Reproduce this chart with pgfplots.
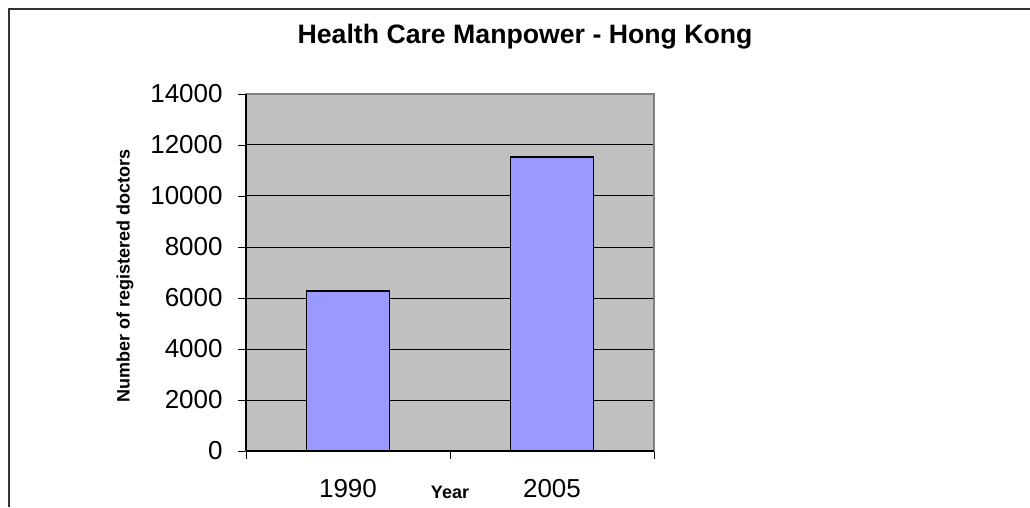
\documentclass[border=0pt]{standalone}
\usepackage{pgfplots}
\pgfplotsset{compat=1.18}
\usepackage{fontspec}
\setmainfont{Liberation Sans}
\definecolor{plotbg}{HTML}{C0C0C0}
\definecolor{barfill}{HTML}{9999FF}
\definecolor{framegray}{HTML}{333333}
\begin{document}
\begin{tikzpicture}
\useasboundingbox (0,0) rectangle (772.5pt,380.25pt);
\draw[framegray, line width=1.6pt] (6.75pt,0pt) -- (6.75pt,373.5pt) -- (772.5pt,373.5pt);
\begin{axis}[
  at={(184.5pt,42pt)}, anchor=south west,
  scale only axis, width=306pt, height=267.75pt,
  xmin=-0.5, xmax=1.5, ymin=0, ymax=14000,
  ytick distance=2000,
  scaled y ticks=false,
  /pgf/number format/1000 sep={},
  /pgf/number format/assume math mode=true,
  xtick={-0.5,0.5,1.5}, xticklabels={},
  extra x ticks={0,1}, extra x tick labels={1990,2005},
  extra x tick style={major tick length=0pt, grid=none},
  xtick pos=bottom, ytick pos=left,
  tick align=outside, major tick length=6pt,
  tick style={black, line width=0.6pt},
  ymajorgrids, grid style={black, line width=0.75pt},
  axis line style={draw=gray, line width=0.9pt},
  axis background/.style={fill=plotbg},
  ticklabel style={font=\fontsize{19.5}{22}\selectfont},
  yticklabel style={xshift=-8pt},
  xticklabel style={yshift=-18pt},
  title={\textbf{Health Care Manpower - Hong Kong}},
  title style={font=\fontsize{20}{24}\selectfont, at={(axis description cs:0.684,1.137)}, anchor=center},
  ylabel={\textbf{Number of registered doctors}},
  ylabel style={font=\fontsize{13.5}{16}\selectfont, at={(axis description cs:-0.2966,0.49)}, anchor=center},
  xlabel={\textbf{Year}},
  xlabel style={font=\fontsize{13.5}{16}\selectfont, at={(axis description cs:0.5,-0.1148)}, anchor=center},
  clip=false,
]
\addplot[ybar, bar width=62.25pt, fill=barfill, draw=black, line width=1.2pt] coordinates {(0,6270) (1,11520)};
\draw[black, line width=0.9pt] (rel axis cs:0,0) -- (rel axis cs:1,0);
\draw[black, line width=0.9pt] (rel axis cs:0,0) -- (rel axis cs:0,1);
\end{axis}
\end{tikzpicture}
\end{document}
